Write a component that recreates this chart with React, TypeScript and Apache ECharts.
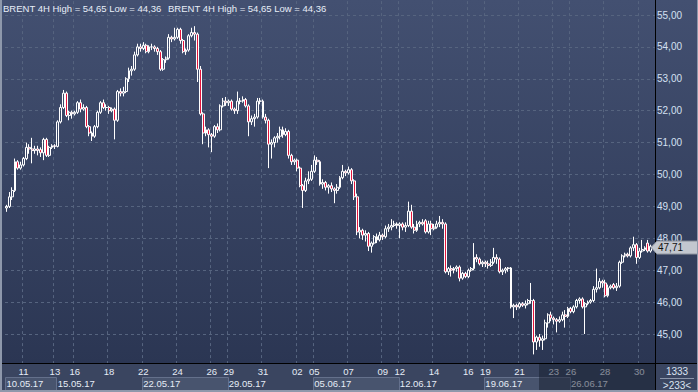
import React, { useEffect, useRef } from "react";
import * as echarts from "echarts";

// ---- categories (4H bars) ----
const tradingDays = [
  "10.05.17", "11.05.17", "12.05.17",
  "15.05.17", "16.05.17", "17.05.17", "18.05.17", "19.05.17",
  "22.05.17", "23.05.17", "24.05.17", "25.05.17", "26.05.17",
  "29.05.17", "30.05.17", "31.05.17", "01.06.17", "02.06.17",
  "05.06.17", "06.06.17", "07.06.17", "08.06.17", "09.06.17",
  "12.06.17", "13.06.17", "14.06.17", "15.06.17", "16.06.17",
  "19.06.17", "20.06.17", "21.06.17", "22.06.17", "23.06.17",
  "26.06.17", "27.06.17", "28.06.17", "29.06.17", "30.06.17",
];
const barHours = ["01:00", "05:00", "09:00", "13:00", "17:00", "21:00"];

// day tick labels: [day, bar slot, text]
const dayTicks: [string, number, string][] = [
  ["11.05.17", 0, "11"], ["12.05.17", 5, "13"], ["16.05.17", 0, "16"], ["18.05.17", 0, "18"],
  ["22.05.17", 0, "22"], ["24.05.17", 0, "24"], ["26.05.17", 0, "26"], ["29.05.17", 0, "29"],
  ["31.05.17", 0, "31"], ["02.06.17", 0, "02"], ["05.06.17", 0, "05"], ["07.06.17", 0, "07"],
  ["09.06.17", 0, "09"], ["12.06.17", 0, "12"], ["14.06.17", 0, "14"], ["16.06.17", 0, "16"],
  ["19.06.17", 0, "19"], ["21.06.17", 0, "21"], ["23.06.17", 0, "23"], ["26.06.17", 0, "26"],
  ["28.06.17", 0, "28"], ["30.06.17", 0, "30"],
];
const weekStarts = ["10.05.17", "15.05.17", "22.05.17", "29.05.17", "05.06.17", "12.06.17", "19.06.17", "26.06.17"];
const boxedWeeks = ["10.05.17", "22.05.17", "05.06.17", "19.06.17"];

// ---- OHLC per week: [open, close, low, high] ----
const week0 = [
  [48.95, 49.0, 48.83, 49.05], [49.0, 49.3, 48.95, 49.45], [49.3, 49.5, 49.2, 49.6],
  [49.5, 50.4, 49.45, 50.5], [50.4, 50.2, 50.15, 50.45], [50.2, 50.3, 50.15, 50.4],
  [50.3, 50.5, 50.25, 50.55], [50.5, 50.85, 50.45, 51.0], [50.85, 50.8, 50.65, 50.95],
  [50.8, 50.75, 50.35, 51.15], [50.75, 50.8, 50.65, 50.9], [50.8, 50.75, 50.6, 50.9],
  [50.78, 50.68, 50.55, 50.85], [50.68, 51.1, 50.45, 51.15], [51.1, 50.6, 50.55, 51.15],
  [50.6, 50.85, 50.55, 50.9], [50.85, 50.9, 50.8, 50.95], [50.9, 50.88, 50.8, 50.95],
];
const week1 = [
  [50.88, 51.65, 50.85, 51.7], [51.65, 52.1, 51.6, 52.2], [52.1, 52.55, 52.05, 52.65],
  [52.55, 51.85, 51.8, 52.6], [51.85, 51.95, 51.7, 52.0], [51.95, 51.9, 51.75, 52.0],
  [51.9, 51.95, 51.85, 52.0], [51.95, 52.25, 51.9, 52.3], [52.25, 52.05, 51.95, 52.35],
  [52.05, 52.1, 52.0, 52.2], [52.1, 51.5, 51.45, 52.15], [51.5, 51.3, 51.2, 51.55],
  [51.3, 51.2, 51.05, 51.35], [51.2, 51.5, 51.15, 51.55], [51.5, 51.95, 51.45, 52.0],
  [51.95, 52.25, 51.9, 52.3], [52.25, 52.1, 52.05, 52.35], [52.1, 52.1, 52.0, 52.2],
  [52.1, 52.0, 51.9, 52.15], [52.0, 52.05, 51.95, 52.1], [52.05, 51.7, 51.1, 52.1],
  [51.7, 52.6, 51.65, 52.65], [52.6, 52.55, 52.45, 52.7], [52.55, 52.6, 52.45, 52.75],
  [52.6, 53.0, 52.55, 53.05], [53.0, 53.25, 52.9, 53.35], [53.25, 53.3, 53.1, 53.4],
  [53.3, 53.75, 53.25, 53.85], [53.75, 54.0, 53.7, 54.1], [54.0, 53.95, 53.85, 54.1],
];
const week2 = [
  [53.95, 54.05, 53.9, 54.15], [54.05, 53.85, 53.8, 54.1], [53.85, 54.0, 53.8, 54.05],
  [54.0, 54.0, 53.9, 54.1], [54.0, 53.95, 53.85, 54.05], [53.95, 53.85, 53.75, 54.0],
  [53.85, 53.3, 53.25, 53.9], [53.3, 53.6, 53.25, 53.65], [53.6, 53.65, 53.5, 53.7],
  [53.65, 54.3, 53.6, 54.4], [54.3, 54.25, 54.15, 54.35], [54.25, 54.3, 54.2, 54.6],
  [54.3, 54.55, 54.25, 54.6], [54.55, 54.2, 54.1, 54.6], [54.2, 53.85, 53.8, 54.25],
  [53.85, 53.9, 53.75, 53.95], [53.9, 54.35, 53.85, 54.4], [54.35, 54.45, 54.3, 54.6],
  [54.45, 54.4, 54.2, 54.65], [54.4, 53.3, 52.9, 54.45], [53.3, 51.9, 51.85, 53.4],
  [51.9, 51.3, 50.95, 51.95], [51.3, 51.4, 51.2, 51.5], [51.4, 51.25, 50.85, 51.45],
  [51.25, 51.2, 50.7, 51.3], [51.2, 51.5, 51.15, 51.55], [51.5, 51.4, 51.3, 51.6],
  [51.4, 52.15, 51.35, 52.2], [52.15, 52.3, 52.1, 52.4], [52.3, 52.25, 52.15, 52.43],
];
const week3 = [
  [52.25, 52.3, 52.15, 52.35], [52.3, 52.05, 52.0, 52.35], [52.05, 52.0, 51.9, 52.1],
  [52.0, 52.3, 51.9, 52.6], [52.3, 52.3, 52.2, 52.4], [52.3, 52.35, 52.25, 52.45],
  [52.35, 52.15, 52.1, 52.4], [52.15, 51.65, 51.2, 52.2], [51.65, 51.75, 51.55, 51.85],
  [51.75, 51.8, 51.5, 51.9], [51.8, 52.3, 51.75, 52.4], [52.3, 52.3, 52.2, 52.4],
  [52.3, 51.8, 51.75, 52.35], [51.8, 51.7, 51.6, 51.9], [51.7, 50.95, 50.2, 51.75],
  [50.95, 51.0, 50.5, 51.1], [51.0, 51.15, 50.85, 51.2], [51.15, 51.2, 51.0, 51.3],
  [51.2, 51.4, 51.1, 51.5], [51.4, 51.25, 51.15, 51.5], [51.25, 51.35, 51.2, 51.45],
  [51.35, 50.6, 50.5, 51.4], [50.6, 50.4, 50.3, 50.65], [50.4, 50.45, 50.3, 50.5],
  [50.45, 50.2, 50.1, 50.5], [50.2, 49.65, 49.6, 50.25], [49.65, 49.5, 48.95, 49.7],
  [49.5, 49.8, 49.45, 49.9], [49.8, 49.85, 49.7, 50.1], [49.85, 50.1, 49.8, 50.3],
];
const week4 = [
  [50.1, 50.45, 50.05, 50.6], [50.45, 50.4, 50.3, 50.55], [50.4, 49.7, 49.65, 50.45],
  [49.7, 49.75, 49.55, 49.85], [49.75, 49.6, 49.5, 49.8], [49.6, 49.65, 49.4, 49.7],
  [49.65, 49.55, 49.45, 49.75], [49.55, 49.5, 49.1, 49.6], [49.5, 49.6, 49.4, 49.7],
  [49.6, 49.9, 49.55, 49.95], [49.9, 50.1, 49.85, 50.3], [50.1, 50.05, 49.95, 50.15],
  [50.05, 50.15, 50.0, 50.25], [50.15, 49.8, 49.7, 50.2], [49.8, 49.3, 49.2, 49.85],
  [49.3, 48.2, 48.1, 49.4], [48.2, 48.25, 48.0, 48.35], [48.25, 48.1, 47.95, 48.3],
  [48.1, 48.15, 47.9, 48.25], [48.15, 47.75, 47.6, 48.2], [47.75, 47.85, 47.55, 47.9],
  [47.85, 48.05, 47.8, 48.1], [48.05, 47.95, 47.85, 48.15], [47.95, 48.1, 47.9, 48.2],
  [48.1, 48.05, 47.95, 48.15], [48.05, 48.3, 48.0, 48.4], [48.3, 48.35, 48.2, 48.45],
  [48.35, 48.4, 48.25, 48.6], [48.4, 48.45, 48.35, 48.55], [48.45, 48.4, 48.3, 48.5],
];
const week5 = [
  [48.4, 48.45, 48.0, 48.5], [48.45, 48.35, 48.25, 48.5], [48.35, 48.4, 48.2, 48.5],
  [48.4, 48.85, 48.35, 49.15], [48.85, 48.35, 48.3, 49.05], [48.35, 48.25, 48.15, 48.45],
  [48.25, 48.45, 48.2, 48.55], [48.45, 48.5, 48.35, 48.55], [48.5, 48.45, 48.4, 48.6],
  [48.55, 48.2, 48.15, 48.6], [48.2, 48.45, 48.15, 48.55], [48.45, 48.3, 48.1, 48.55],
  [48.3, 48.35, 48.25, 48.45], [48.35, 48.45, 48.3, 48.55], [48.45, 48.5, 48.35, 48.7],
  [48.5, 48.45, 48.3, 48.6], [48.45, 46.95, 46.9, 48.5], [46.95, 47.05, 46.85, 47.1],
  [47.05, 47.0, 46.8, 47.15], [47.0, 47.05, 46.9, 47.1], [47.05, 47.1, 46.95, 47.15],
  [47.1, 46.75, 46.65, 47.15], [46.75, 46.9, 46.7, 46.95], [46.9, 46.8, 46.75, 46.95],
  [46.8, 47.0, 46.75, 47.05], [47.0, 47.05, 46.95, 47.1], [47.05, 47.4, 47.0, 47.85],
  [47.4, 47.35, 47.25, 47.5], [47.35, 47.2, 47.15, 47.4], [47.2, 47.25, 47.1, 47.3],
];
const week6 = [
  [47.25, 47.2, 47.1, 47.3], [47.2, 47.15, 47.05, 47.3], [47.15, 47.25, 47.1, 47.35],
  [47.25, 47.4, 47.2, 47.7], [47.4, 47.35, 47.2, 47.5], [47.35, 46.95, 46.9, 47.4],
  [46.95, 47.0, 46.85, 47.05], [47.0, 47.05, 46.9, 47.1], [47.05, 47.07, 46.95, 47.1],
  [47.07, 45.85, 45.8, 47.1], [45.85, 45.9, 45.5, 45.95], [45.9, 45.85, 45.75, 45.95],
  [45.85, 45.95, 45.8, 46.0], [45.95, 45.9, 45.85, 46.0], [45.9, 45.95, 45.8, 46.05],
  [45.95, 46.05, 45.9, 46.1], [46.05, 46.05, 45.95, 46.6], [46.05, 44.75, 44.36, 46.1],
  [44.75, 44.9, 44.5, 44.95], [44.9, 44.8, 44.6, 45.0], [44.8, 44.85, 44.5, 44.95],
  [44.85, 45.35, 44.8, 45.45], [45.35, 45.6, 45.2, 45.65], [45.6, 45.5, 45.4, 45.7],
  [45.5, 45.45, 45.3, 45.55], [45.45, 45.4, 45.05, 45.5], [45.4, 45.45, 45.35, 45.55],
  [45.45, 45.6, 45.4, 45.7], [45.6, 45.55, 45.2, 45.75], [45.55, 45.8, 45.5, 45.85],
];
const week7 = [
  [45.8, 45.7, 45.65, 45.85], [45.7, 45.85, 45.65, 45.9], [45.85, 46.05, 45.8, 46.1],
  [46.05, 46.1, 45.95, 46.15], [46.1, 45.85, 45.8, 46.15], [45.85, 45.95, 45.0, 46.0],
  [45.95, 46.0, 45.9, 46.05], [46.0, 46.05, 45.95, 46.1], [46.05, 46.4, 46.0, 46.5],
  [46.4, 46.45, 46.3, 47.05], [46.45, 46.65, 46.4, 46.75], [46.65, 46.6, 46.45, 46.7],
  [46.6, 46.2, 46.15, 46.7], [46.2, 46.45, 46.15, 46.55], [46.45, 46.5, 46.4, 46.55],
  [46.55, 46.45, 46.4, 46.6], [46.45, 46.5, 46.35, 46.6], [46.5, 47.25, 46.45, 47.3],
  [47.25, 47.45, 47.2, 47.5], [47.45, 47.5, 47.4, 47.55], [47.5, 47.45, 47.4, 47.55],
  [47.45, 47.7, 47.4, 47.75], [47.7, 47.8, 47.6, 48.05], [47.8, 47.4, 47.2, 47.85],
  [47.4, 47.6, 47.35, 47.7], [47.6, 47.65, 47.55, 47.95], [47.65, 47.7, 47.6, 47.75],
  [47.85, 47.6, 47.55, 47.95], [47.6, 47.75, 47.55, 47.8], [47.75, 47.71, 47.65, 47.8],
];

const yTicksMin = 44;
const yTicksMax = 56;
const barCountLabel = "1333";
const visibleLabel = ">233<";

const fmt = (v: number) => v.toFixed(2).replace(".", ",");

export default function App() {
  const ref = useRef<HTMLDivElement>(null);

  useEffect(() => {
    if (!ref.current) return;
    const chart = echarts.init(ref.current, undefined, { renderer: "svg" });

    const categories = tradingDays.flatMap((d) => barHours.map((h) => `${d} ${h}`));
    const ohlc = [...week0, ...week1, ...week2, ...week3, ...week4, ...week5, ...week6, ...week7];

    const dayTickMap = new Map<number, string>();
    dayTicks.forEach(([d, slot, t]) => {
      const idx = categories.indexOf(`${d} ${barHours[slot]}`);
      if (idx >= 0) dayTickMap.set(idx, t);
    });
    const weekMap = new Map<number, string>();
    weekStarts.forEach((w) => {
      const idx = categories.indexOf(`${w} ${barHours[0]}`);
      if (idx >= 0) weekMap.set(idx, w);
    });

    const hi = Math.max(...ohlc.map((r) => r[3]));
    const lo = Math.min(...ohlc.map((r) => r[2]));
    const last = ohlc[ohlc.length - 1][1];

    const font = "'Liberation Sans', Arial, sans-serif";
    const gridLine = { color: "#56647f", type: [3, 3] as any, width: 1 };

    chart.setOption({
      animation: false,
      backgroundColor: "transparent",
      grid: {
        left: 5,
        right: 43,
        top: -16.9,
        bottom: 26.1,
        containLabel: false,
        outerBoundsMode: "none",
      },
      xAxis: [
        {
          type: "category",
          data: categories,
          boundaryGap: true,
          axisLine: { show: false },
          axisTick: { show: false },
          axisLabel: {
            interval: (i: number) => dayTickMap.has(i),
            formatter: (_v: string, i: number) => dayTickMap.get(i) ?? "",
            color: "#e6ecf6",
            fontSize: 9.5,
            fontFamily: font,
            margin: 1,
          },
          splitLine: { show: true, interval: (i: number) => dayTickMap.has(i), lineStyle: gridLine },
        },
        {
          type: "category",
          data: categories,
          position: "bottom",
          offset: 11,
          z: 20,
          boundaryGap: true,
          axisLine: { show: false },
          axisTick: { show: false },
          splitLine: { show: false },
          axisLabel: {
            interval: (i: number) => weekMap.has(i),
            formatter: (_v: string, i: number) => weekMap.get(i) ?? "",
            color: "#e6ecf6",
            fontSize: 9.5,
            fontFamily: font,
            align: "left",
            margin: 2,
          },
        },
      ],
      yAxis: {
        type: "value",
        position: "right",
        min: yTicksMin,
        max: yTicksMax,
        interval: 1,
        axisLine: { show: false },
        axisTick: { show: false },
        axisLabel: {
          color: "#d4e0f2",
          fontSize: 10,
          fontFamily: font,
          margin: 2,
          showMinLabel: false,
          showMaxLabel: false,
          formatter: (v: number) => fmt(v),
        },
        splitLine: { show: true, lineStyle: gridLine },
      },
      series: [
        {
          type: "candlestick",
          xAxisIndex: 0,
          data: ohlc,
          barWidth: 2.4,
          itemStyle: {
            color: "rgba(0,0,0,0)",
            color0: "#e3143c",
            borderColor: "#ffffff",
            borderColor0: "#ffffff",
            borderColorDoji: "#ffffff",
            borderWidth: 1,
          },
        },
      ],
    });

    const n = categories.length;
    const bw = 650 / n;
    const xLeft = (i: number) => (chart.convertToPixel({ xAxisIndex: 0 }, categories[i]) as number) - bw / 2;
    const yPrice = chart.convertToPixel({ yAxisIndex: 0 }, last) as number;

    const boxes: any[] = [];
    weekStarts.forEach((w, wi) => {
      if (!boxedWeeks.includes(w)) return;
      const s = categories.indexOf(`${w} ${barHours[0]}`);
      const next = wi + 1 < weekStarts.length ? categories.indexOf(`${weekStarts[wi + 1]} ${barHours[0]}`) : n;
      const x0 = xLeft(s);
      const x1 = next < n ? xLeft(next) : 655;
      boxes.push({
        type: "rect",
        z: 11,
        shape: { x: Math.round(x0) + 0.5, y: 377.5, width: Math.round(x1 - x0), height: 14 },
        style: { fill: "#48546e", stroke: "#64708b", lineWidth: 1 },
      });
    });

    const title = `BRENT 4H High = ${fmt(hi)} Low = ${fmt(lo)}`;

    chart.setOption({
      graphic: [
        { type: "rect", z: 10, shape: { x: 0, y: 363, width: 655, height: 4 }, style: { fill: "#3a4560" } },
        ...boxes,
        { type: "line", z: 12, shape: { x1: 0, y1: 363.5, x2: 698, y2: 363.5 }, style: { stroke: "#000", lineWidth: 1 } },
        { type: "line", z: 12, shape: { x1: 655.5, y1: 0, x2: 655.5, y2: 392 }, style: { stroke: "#000", lineWidth: 1 } },
        { type: "rect", z: 30, shape: { x: 539, y: 364, width: 116, height: 28 }, style: { fill: "rgba(16,22,38,0.45)" } },
        { type: "text", z: 31, x: 677, y: 366, style: { text: barCountLabel, fill: "#dbe3f0", font: `10px ${font}`, textAlign: "center" } },
        { type: "line", z: 31, shape: { x1: 660, y1: 378.5, x2: 694, y2: 378.5 }, style: { stroke: "#8c96aa", lineWidth: 1 } },
        { type: "text", z: 31, x: 677, y: 380, style: { text: visibleLabel, fill: "#dbe3f0", font: `10px ${font}`, textAlign: "center" } },
        { type: "text", z: 31, x: 3, y: 3, style: { text: title, fill: "#e8eef8", font: `9.5px ${font}` } },
        { type: "text", z: 31, x: 168, y: 3, style: { text: title, fill: "#e8eef8", font: `9.5px ${font}` } },
        {
          type: "polygon",
          z: 31,
          shape: { points: [[651, yPrice], [657, yPrice - 6.5], [698, yPrice - 6.5], [698, yPrice + 6.5], [657, yPrice + 6.5]] },
          style: { fill: "#c3c7cf", stroke: "#8a909c", lineWidth: 1 },
        },
        { type: "text", z: 32, x: 658, y: yPrice - 5.5, style: { text: fmt(last), fill: "#111", font: `10px ${font}` } },
        { type: "rect", z: 40, shape: { x: 0, y: 0, width: 2, height: 392 }, style: { fill: "#8e98ab" } },
        { type: "rect", z: 40, shape: { x: 0, y: 390, width: 698, height: 2 }, style: { fill: "#8e98ab" } },
        { type: "rect", z: 40, shape: { x: 697, y: 0, width: 1, height: 392 }, style: { fill: "#8e98ab" } },
      ],
    });

    return () => chart.dispose();
  }, []);

  return (
    <div
      style={{
        position: "absolute",
        left: 0,
        top: 0,
        width: 698,
        height: 392,
        background:
          "linear-gradient(to bottom, #435071 0px, #2b3653 363px, #3a4560 363px, #3a4560 392px)",
      }}
    >
      <div ref={ref} style={{ width: 698, height: 392 }} />
    </div>
  );
}
